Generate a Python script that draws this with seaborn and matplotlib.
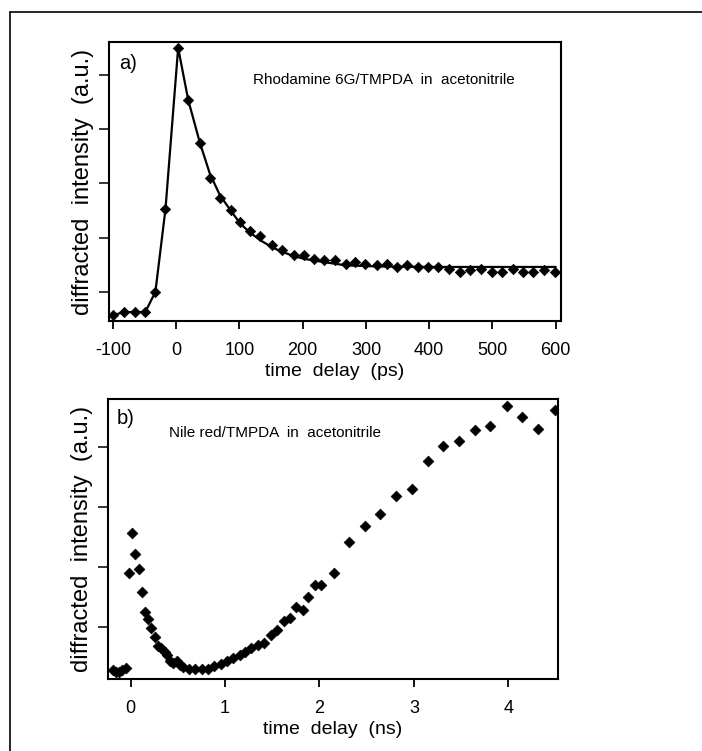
import matplotlib
matplotlib.use("Agg")
import matplotlib.pyplot as plt
from matplotlib.lines import Line2D
import seaborn as sns
import pandas as pd

# panel a: Rhodamine 6G/TMPDA, time in ps
a_time = [-100, -83, -66, -49, -33, -17, 3, 19, 37, 53, 69, 86, 101, 117, 133, 152,
          167, 186, 202, 218, 233, 251, 268, 282, 298, 317, 333, 349, 365, 383, 398,
          414, 432, 449, 464, 482, 499, 515, 532, 548, 564, 582, 599]
a_signal = [0.57, 0.63, 0.63, 0.63, 1.00, 2.53, 5.49, 4.53, 3.74, 3.09, 2.73, 2.50,
            2.29, 2.12, 2.03, 1.87, 1.77, 1.68, 1.68, 1.61, 1.58, 1.58, 1.52, 1.55,
            1.52, 1.49, 1.52, 1.46, 1.49, 1.46, 1.46, 1.46, 1.43, 1.37, 1.40, 1.43,
            1.37, 1.36, 1.43, 1.37, 1.37, 1.40, 1.37]
# fitted curve drawn through panel a
fit_time = [-100, -83, -66, -49, -33, -17, 3, 19, 37, 53, 69, 86, 101, 117, 133, 152,
            167, 186, 202, 233, 268, 317, 400, 500, 600]
fit_signal = [0.57, 0.63, 0.63, 0.63, 1.00, 2.53, 5.49, 4.53, 3.76, 3.18, 2.78, 2.50,
              2.26, 2.09, 1.95, 1.82, 1.74, 1.66, 1.61, 1.55, 1.49, 1.47, 1.46, 1.46, 1.46]

# panel b: Nile red/TMPDA, time in ns
b_time = [-0.19, -0.16, -0.12, -0.09, -0.05, -0.02, 0.01, 0.05, 0.09, 0.12, 0.15, 0.18,
          0.21, 0.26, 0.29, 0.32, 0.36, 0.38, 0.42, 0.45, 0.49, 0.52, 0.55, 0.62, 0.68,
          0.75, 0.82, 0.88, 0.96, 1.02, 1.08, 1.16, 1.21, 1.27, 1.35, 1.41, 1.49, 1.55,
          1.62, 1.69, 1.75, 1.82, 1.88, 1.95, 2.02, 2.15, 2.31, 2.48, 2.64, 2.81, 2.98,
          3.15, 3.31, 3.48, 3.65, 3.81, 3.99, 4.15, 4.32, 4.49]
b_signal = [0.27, 0.24, 0.25, 0.28, 0.31, 1.89, 2.56, 2.21, 1.96, 1.58, 1.25, 1.12,
            0.97, 0.82, 0.67, 0.64, 0.57, 0.53, 0.42, 0.40, 0.43, 0.36, 0.33, 0.29, 0.29,
            0.29, 0.29, 0.35, 0.38, 0.42, 0.47, 0.53, 0.57, 0.64, 0.69, 0.73, 0.86, 0.94,
            1.09, 1.15, 1.32, 1.27, 1.50, 1.69, 1.69, 1.89, 2.41, 2.68, 2.87, 3.17, 3.29,
            3.76, 4.01, 4.10, 4.28, 4.35, 4.67, 4.50, 4.30, 4.61]

a_xticks = [-100, 0, 100, 200, 300, 400, 500, 600]
b_xticks = [0, 1, 2, 3, 4]

sns.set_theme(style="ticks")
plt.rcParams['font.family'] = ['Liberation Sans', 'DejaVu Sans']
plt.rcParams['text.color'] = 'black'
plt.rcParams['axes.labelcolor'] = 'black'

fig = plt.figure(figsize=(7.02, 7.51), dpi=100)
ax_a = fig.add_axes([0.1553, 0.5726, 0.6439, 0.3715])
ax_b = fig.add_axes([0.1534, 0.0959, 0.6419, 0.3728])

df_a = pd.DataFrame({'t': a_time, 'y': a_signal})
df_fit = pd.DataFrame({'t': fit_time, 'y': fit_signal})
df_b = pd.DataFrame({'t': b_time, 'y': b_signal})

sns.lineplot(data=df_fit, x='t', y='y', ax=ax_a, color='black', linewidth=1.6,
             sort=False, estimator=None)
sns.scatterplot(data=df_a, x='t', y='y', ax=ax_a, color='black', marker='D',
                s=28, edgecolor='black', linewidth=0.5, zorder=3)
sns.scatterplot(data=df_b, x='t', y='y', ax=ax_b, color='black', marker='D',
                s=30, edgecolor='black', linewidth=0.5, zorder=3)

ax_a.set_xlim(-106.3, 608.4)
ax_a.set_ylim(0.466, 5.60)
ax_b.set_xlim(-0.244, 4.53)
ax_b.set_ylim(0.128, 4.794)

ax_a.set_xticks(a_xticks)
ax_a.set_xticklabels([str(v) for v in a_xticks])
ax_a.set_yticks([1, 2, 3, 4, 5])
ax_b.set_xticks(b_xticks)
ax_b.set_xticklabels([str(v) for v in b_xticks])
ax_b.set_yticks([1, 2, 3, 4])

for ax, unit, pad in [(ax_a, 'ps', 9), (ax_b, 'ns', 9)]:
    ax.set_yticklabels([])
    for s in ax.spines.values():
        s.set_color('black')
        s.set_linewidth(1.5)
    ax.tick_params(axis='x', direction='out', length=6, width=1.3, pad=pad,
                   labelsize=13, colors='black')
    ax.tick_params(axis='y', direction='out', length=7, width=1.3)
    ax.set_xlabel(f'time  delay  ({unit})', fontsize=14, labelpad=3)
    ax.set_ylabel('diffracted  intensity  (a.u.)', fontsize=17, labelpad=0)

ax_a.text(0.022, 0.922, 'a)', transform=ax_a.transAxes, fontsize=14.5,
          ha='left', va='center')
ax_a.text(0.319, 0.863, 'Rhodamine 6G/TMPDA  in  acetonitrile', transform=ax_a.transAxes,
          fontsize=11, ha='left', va='center')
ax_b.text(0.02, 0.931, 'b)', transform=ax_b.transAxes, fontsize=14.5,
          ha='left', va='center')
ax_b.text(0.135, 0.877, 'Nile red/TMPDA  in  acetonitrile', transform=ax_b.transAxes,
          fontsize=11, ha='left', va='center')

# frame around the figure (left and top edges visible)
fig.add_artist(Line2D([10 / 702, 10 / 702], [0, 1 - 12 / 751], color='black', lw=1.2))
fig.add_artist(Line2D([10 / 702, 1], [1 - 12 / 751, 1 - 12 / 751], color='black', lw=1.2))

fig.savefig('out.png', dpi=100, facecolor='white')
